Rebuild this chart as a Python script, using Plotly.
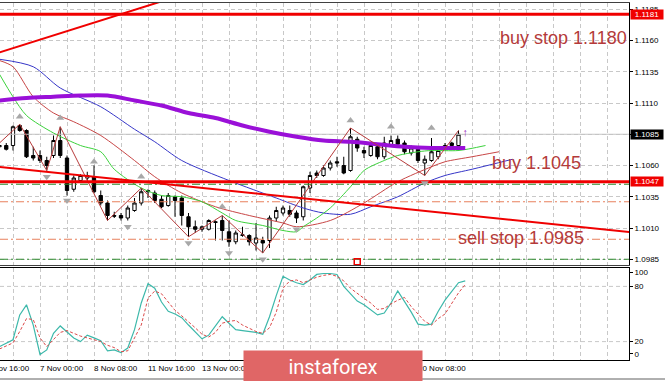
import plotly.graph_objects as go

# ---------------- data (EURUSD H4, bar 0 = 7 Nov 00:00) ----------------
bar_index = list(range(-6, 63))
open_ = [1.1075, 1.1076, 1.1076, 1.1092, 1.1088, 1.1068, 1.1068, 1.1064, 1.1068, 1.1080,
         1.1066, 1.1041, 1.1048, 1.1050, 1.1051, 1.1036, 1.1030, 1.1020, 1.1020, 1.1018,
         1.1024, 1.1030, 1.1040, 1.1038, 1.1033, 1.1028, 1.1035, 1.1034, 1.1019, 1.1011,
         1.1009, 1.1009, 1.1015, 1.1016, 1.1007, 1.0999, 1.1004, 1.1004, 1.0998, 1.1000,
         1.1000, 1.1018, 1.1022, 1.1024, 1.1022, 1.1019, 1.1042, 1.1054, 1.1052, 1.1058,
         1.1063, 1.1060, 1.1056, 1.1081, 1.1072, 1.1068, 1.1075, 1.1067, 1.1076, 1.1081,
         1.1078, 1.1070, 1.1073, 1.1062, 1.1064, 1.1067, 1.1073, 1.1078, 1.1076]
high = [1.1079, 1.1078, 1.1092, 1.1093, 1.1089, 1.1075, 1.1072, 1.1067, 1.1084, 1.1091,
        1.1068, 1.1052, 1.1053, 1.1055, 1.1060, 1.1040, 1.1032, 1.1023, 1.1022, 1.1028,
        1.1034, 1.1042, 1.1041, 1.1040, 1.1036, 1.1038, 1.1036, 1.1036, 1.1022, 1.1016,
        1.1012, 1.1017, 1.1016, 1.1020, 1.1016, 1.1008, 1.1011, 1.1005, 1.1014, 1.1003,
        1.1020, 1.1027, 1.1028, 1.1028, 1.1024, 1.1044, 1.1055, 1.1056, 1.1060, 1.1064,
        1.1067, 1.1067, 1.1090, 1.1083, 1.1075, 1.1079, 1.1078, 1.1083, 1.1084, 1.1084,
        1.1080, 1.1076, 1.1074, 1.1068, 1.1082, 1.1074, 1.1078, 1.1079, 1.1088]
low = [1.1072, 1.1072, 1.1072, 1.1087, 1.1066, 1.1064, 1.1062, 1.1056, 1.1066, 1.1066,
       1.1036, 1.1039, 1.1046, 1.1048, 1.1038, 1.1028, 1.1016, 1.1018, 1.1016, 1.1016,
       1.1023, 1.1028, 1.1034, 1.1030, 1.1026, 1.1027, 1.1019, 1.1012, 1.1003, 1.1006,
       1.1007, 1.1008, 1.1000, 1.1000, 1.0995, 1.0997, 1.1003, 1.0996, 1.0992, 1.0990,
       1.0994, 1.1015, 1.1020, 1.1019, 1.1014, 1.1016, 1.1038, 1.1050, 1.1051, 1.1056,
       1.1059, 1.1053, 1.1055, 1.1071, 1.1066, 1.1067, 1.1065, 1.1065, 1.1075, 1.1076,
       1.1069, 1.1068, 1.1062, 1.1052, 1.1063, 1.1065, 1.1072, 1.1074, 1.1072]
close = [1.1076, 1.1073, 1.1091, 1.1088, 1.1067, 1.1066, 1.1064, 1.1060, 1.1080, 1.1068,
         1.1040, 1.1050, 1.1052, 1.1052, 1.1039, 1.1030, 1.1020, 1.10195, 1.1018, 1.1026,
         1.1030, 1.1039, 1.1039, 1.1032, 1.1027, 1.1036, 1.1032, 1.1020, 1.1011, 1.1009,
         1.1011, 1.1016, 1.10145, 1.1008, 1.0999, 1.1006, 1.10045, 1.0999, 1.1002, 1.0998,
         1.1018, 1.1024, 1.1026, 1.1021, 1.1018, 1.1043, 1.1052, 1.1052, 1.1058, 1.1062,
         1.1062, 1.1054, 1.1083, 1.1074, 1.1070, 1.1076, 1.1067, 1.1078, 1.1080, 1.1077,
         1.1071, 1.1074, 1.1064, 1.1065, 1.1071, 1.1072, 1.1076, 1.1076, 1.1085]

# moving averages (bar index, price)
ma_purple_x = [-6, -2, 2, 6, 10, 14, 18, 22, 26, 30, 34, 38, 42, 46, 50, 54, 58, 63]
ma_purple_y = [1.1112, 1.1114, 1.1115, 1.1116, 1.1116, 1.1112, 1.1108, 1.1102, 1.1098, 1.1092,
               1.1087, 1.1083, 1.1080, 1.1079, 1.1077, 1.1075, 1.1074, 1.1074]
jaw_x = [-6, -1, 3, 9, 14, 17, 21, 28, 35, 39, 42, 46, 49, 53, 57, 60, 64, 70]
jaw_y = [1.1145, 1.1139, 1.1122, 1.1107, 1.1089, 1.1079, 1.1064, 1.1048, 1.1034, 1.1026,
         1.1022, 1.1021, 1.1027, 1.1035, 1.1046, 1.1052, 1.1057, 1.1065]
teeth_x = [-6, -4, -1, 2, 5, 9, 14, 17, 21, 26, 31, 36, 38, 43, 48, 53, 58, 60, 64, 68]
teeth_y = [1.1144, 1.1139, 1.1115, 1.1102, 1.1095, 1.1084, 1.1064, 1.1051, 1.1038, 1.1027,
           1.1020, 1.1014, 1.1011, 1.1016, 1.1030, 1.1047, 1.1059, 1.1063, 1.1067, 1.1071]
lips_x = [-6, -4, -2, 2, 6, 9, 11, 15, 18, 21, 24, 27, 29, 33, 36, 38, 39, 41, 43, 46,
          48, 51, 53, 56, 58, 62, 66]
lips_y = [1.1133, 1.1115, 1.1100, 1.1086, 1.1076, 1.1071, 1.1057, 1.1042, 1.1036, 1.1035,
          1.1031, 1.1022, 1.1016, 1.1012, 1.1008, 1.1007, 1.1011, 1.1018, 1.1026, 1.1043,
          1.1056, 1.1064, 1.1068, 1.1071, 1.1072, 1.1072, 1.1076]

zigzag_x = [-6, -3, 1, 3, 10, 15, 22, 27, 33, 46, 57, 62]
zigzag_y = [1.1078, 1.1093, 1.1056, 1.1091, 1.1016, 1.1042, 1.1003, 1.1020, 1.0990, 1.1090,
            1.1052, 1.1088]

fractal_up_x = [-3, 3, 8, 15, 27, 46, 52, 58]
fractal_up_y = [1.1099, 1.1098, 1.1063, 1.1051, 1.1027, 1.1096, 1.1091, 1.1090]
fractal_dn_x = [1, 4, 13, 22, 28, 33, 38, 57]
fractal_dn_y = [1.1051, 1.1032, 1.1011, 1.0998, 1.0990, 1.0985, 1.1009, 1.1046]

# horizontal levels
level_red = [1.1181, 1.1047]
level_green = [1.1045, 1.0985]
level_orange = [1.1031, 1.1001]
bid_price = 1.1085

# trend lines (bar index, price)
trend_up_x = [-6, 20]
trend_up_y = [1.11505, 1.11947]
trend_dn_x = [-6, 88]
trend_dn_y = [1.10588, 1.10064]

texts = ["buy stop 1.1180", "buy 1.1045", "sell stop 1.0985"]
text_x = [67.9, 66.7, 61.6]
text_y = [1.1162, 1.1062, 1.1002]

price_ticks = [1.0985, 1.1010, 1.1035, 1.1060, 1.1085, 1.1110, 1.1135, 1.1160, 1.1185]

# stochastic, one value per bar -6 .. 63
stoch_bars = list(range(-6, 64))
stoch_k = [14.5, 18, 22, 49, 60, 38, 6, 11, 29, 37, 31, 24, 20, 27, 24, 21, 10, 11, 8, 13,
           33, 62, 83, 78, 63, 53, 50, 46, 38, 30, 23, 27, 37, 47, 40, 33, 32, 31, 30, 28,
           47, 70, 91, 87, 84, 82, 87, 93, 94, 94, 93, 80, 72, 64, 60, 54, 49, 51, 62, 75,
           64, 52, 39, 38, 39, 53, 65, 75, 84, 86]
stoch_d = [12, 15, 18.6, 31, 45, 44, 24, 14.5, 22, 30, 32, 29, 26, 24, 22, 20, 16, 13.5, 9, 10,
           24, 38, 67, 75, 72, 63, 54, 48, 42, 35, 28, 25, 30, 40, 42, 43, 38, 34.6, 31, 29,
           35, 52, 78, 86, 87, 84, 87, 90, 92, 93, 91, 86, 78, 72, 67, 62, 55, 56, 61, 65,
           68, 58, 50, 42, 38, 45, 50, 62, 73, 82]
stoch_ticks = [6.6, 20, 80, 95]
stoch_ticktext = ["0", "20", "80", "100"]

x_labels = ["5 Nov 16:00", "7 Nov 00:00", "8 Nov 08:00", "11 Nov 16:00", "13 Nov 00:00",
            "14 Nov 08:00", "15 Nov 16:00", "19 Nov 00:00", "20 Nov 08:00"]
x_label_bars = [-8, 0, 8, 16, 24, 32, 40, 48, 56]

# ---------------- layout geometry ----------------
W, H = 665, 381
PLOT_W = 629
PX_PER_BAR = 6.75
BAR0_PX = 40
XMIN = -BAR0_PX / PX_PER_BAR
XMAX = (PLOT_W - BAR0_PX) / PX_PER_BAR
YMIN, YMAX = 1.09804, 1.11900


def py(px):
    return 1 - px / H


FONT = "Arial, Liberation Sans, sans-serif"
GRID = dict(showgrid=True, gridcolor="#C8C8C8", gridwidth=1, griddash="4px,3px")

fig = go.Figure()

# bid line
fig.add_trace(go.Scatter(x=[XMIN, XMAX], y=[bid_price, bid_price], mode="lines",
                         line=dict(color="#C4C4C4", width=1)))

fig.add_trace(go.Candlestick(
    x=bar_index, open=open_, high=high, low=low, close=close,
    increasing=dict(line=dict(color="black", width=1), fillcolor="white"),
    decreasing=dict(line=dict(color="black", width=1), fillcolor="black"),
    whiskerwidth=0, hoverinfo="skip", showlegend=False))

# alligator + MA
fig.add_trace(go.Scatter(x=jaw_x, y=jaw_y, mode="lines", line=dict(color="#3636C8", width=1, shape="spline", smoothing=0.8)))
fig.add_trace(go.Scatter(x=teeth_x, y=teeth_y, mode="lines", line=dict(color="#C84646", width=1, shape="spline", smoothing=0.8)))
fig.add_trace(go.Scatter(x=lips_x, y=lips_y, mode="lines", line=dict(color="#3CD23C", width=1, shape="spline", smoothing=0.8)))
fig.add_trace(go.Scatter(x=ma_purple_x, y=ma_purple_y, mode="lines", line=dict(color="#9A10D8", width=4, shape="spline", smoothing=0.8)))
# zigzag
fig.add_trace(go.Scatter(x=zigzag_x, y=zigzag_y, mode="lines", line=dict(color="#B83C3C", width=1)))

# levels
for lv in level_red:
    fig.add_trace(go.Scatter(x=[XMIN, XMAX], y=[lv, lv], mode="lines", line=dict(color="#F00000", width=3)))
for lv in level_green:
    fig.add_trace(go.Scatter(x=[XMIN, XMAX], y=[lv, lv], mode="lines", line=dict(color="#2E8B2E", width=1, dash="8px,3px,2px,3px")))
for lv in level_orange:
    fig.add_trace(go.Scatter(x=[XMIN, XMAX], y=[lv, lv], mode="lines", line=dict(color="#E8805C", width=1, dash="8px,3px,2px,3px")))

# trend lines
fig.add_trace(go.Scatter(x=trend_up_x, y=trend_up_y, mode="lines", line=dict(color="#F00000", width=2)))
fig.add_trace(go.Scatter(x=trend_dn_x, y=trend_dn_y, mode="lines", line=dict(color="#F00000", width=2)))

# fractals
fig.add_trace(go.Scatter(x=fractal_up_x, y=fractal_up_y, mode="markers",
                         marker=dict(symbol="triangle-up", size=7, color="#A8A8A8")))
fig.add_trace(go.Scatter(x=fractal_dn_x, y=fractal_dn_y, mode="markers",
                         marker=dict(symbol="triangle-down", size=7, color="#A8A8A8")))
fig.add_trace(go.Scatter(x=[47], y=[1.0983], mode="markers",
                         marker=dict(symbol="square-open", size=6, color="#F00000", line=dict(width=1.5))))
fig.add_trace(go.Scatter(x=[63], y=[1.1086], mode="text", text=["↑"],
                         textfont=dict(color="#A030C0", size=11, family=FONT)))

# stochastic
fig.add_trace(go.Scatter(x=stoch_bars, y=stoch_k, mode="lines", xaxis="x2", yaxis="y2",
                         line=dict(color="#3CB8AA", width=1.2)))
fig.add_trace(go.Scatter(x=stoch_bars, y=stoch_d, mode="lines", xaxis="x2", yaxis="y2",
                         line=dict(color="#DC4A4A", width=1, dash="3px,2px")))

for tr in fig.data:
    if tr.type == "scatter":
        tr.hoverinfo = "skip"
        tr.showlegend = False

annotations = []
for t, tx, ty in zip(texts, text_x, text_y):
    annotations.append(dict(text=t, x=tx, y=ty, xref="x", yref="y", xanchor="left", yanchor="middle",
                            showarrow=False, font=dict(family=FONT, size=18, color="#B43A3A")))

for lv, bg in [(level_red[0], "#F00000"), (bid_price, "#000000"), (level_red[1], "#F00000")]:
    annotations.append(dict(text=f"{lv:.4f}", x=1, y=lv, xref="paper", yref="y", xanchor="left",
                            yanchor="middle", xshift=1, showarrow=False, bgcolor=bg, borderpad=0,
                            width=32, height=9, font=dict(family=FONT, size=8, color="white")))

for lab, b in zip(x_labels, x_label_bars):
    xv = max(b, XMIN)
    annotations.append(dict(text=lab, x=xv, y=py(368), xref="x2", yref="paper", xanchor="left",
                            yanchor="middle", xshift=(b - xv) * PX_PER_BAR - 2, showarrow=False,
                            font=dict(family=FONT, size=8, color="black")))

# watermark
annotations.append(dict(text="instaforex", x=333 / PLOT_W, y=py(366), xref="paper", yref="paper",
                        xanchor="center", yanchor="middle", showarrow=False, width=178, height=31,
                        bgcolor="#E06666", borderpad=0,
                        font=dict(family="Roboto, Open Sans, sans-serif", size=20, color="white")))

shapes = []
for v in [20, 80]:
    shapes.append(dict(type="line", xref="x2 domain", yref="y2", x0=0, x1=1, y0=v, y1=v,
                       line=dict(color="#C8C8C8", width=1, dash="4px,3px"), layer="below"))
shapes.append(dict(type="line", xref="paper", yref="paper", x0=0, x1=W / PLOT_W, y0=py(379), y1=py(379),
                   line=dict(color="#606060", width=1)))

fig.update_layout(
    width=W, height=H, margin=dict(l=0, r=W - PLOT_W, t=0, b=0),
    paper_bgcolor="white", plot_bgcolor="white", showlegend=False,
    font=dict(family=FONT, size=8, color="black"),
    xaxis=dict(domain=[0, 1], anchor="y", range=[XMIN, XMAX], tick0=0, dtick=4,
               showticklabels=False, ticks="", zeroline=False, showline=True, mirror=True,
               linecolor="#404040", linewidth=1, rangeslider=dict(visible=False), **GRID),
    yaxis=dict(domain=[py(265), py(3)], anchor="x", side="right", range=[YMIN, YMAX],
               tickvals=price_ticks, ticktext=[f"{v:.4f}" for v in price_ticks],
               ticks="outside", ticklen=3, tickcolor="black", zeroline=False,
               showline=True, linecolor="black", linewidth=1,
               tickfont=dict(family=FONT, size=8, color="black"), **GRID),
    xaxis2=dict(domain=[0, 1], anchor="y2", matches="x", range=[XMIN, XMAX], tick0=0, dtick=4,
                showticklabels=False, ticks="", zeroline=False, showline=True, mirror=True,
                linecolor="black", linewidth=1, **GRID),
    yaxis2=dict(domain=[py(360), py(268)], anchor="x2", side="right", range=[0, 100],
                tickvals=stoch_ticks, ticktext=stoch_ticktext, ticks="outside", ticklen=3,
                tickcolor="black", showgrid=False, zeroline=False, showline=True,
                linecolor="black", linewidth=1,
                tickfont=dict(family=FONT, size=8, color="black")),
    annotations=annotations, shapes=shapes,
)

fig.write_html("out.html", config={"displayModeBar": False},
               post_script="document.body.style.margin='0';document.body.style.overflow='hidden';")
